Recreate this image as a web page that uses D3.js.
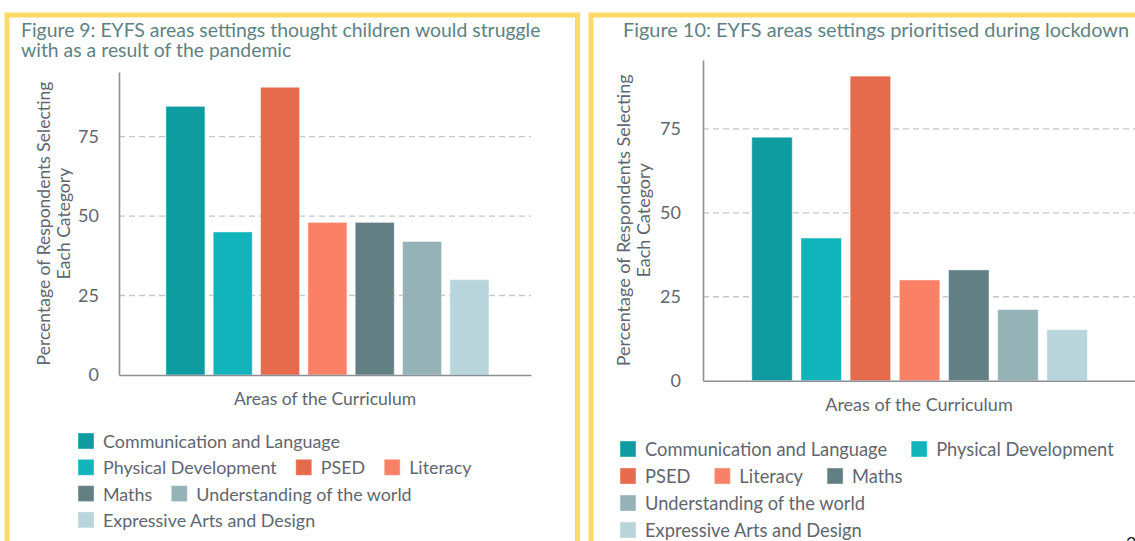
<!DOCTYPE html>
<html>
<head>
<meta charset="utf-8">
<script src="https://cdn.jsdelivr.net/npm/d3@7"></script>
<style>
  html, body { margin: 0; padding: 0; background: #ffffff; overflow: hidden; }
  svg { display: block; font-family: Lato, "Open Sans", sans-serif; }
</style>
</head>
<body>
<svg id="chart" width="1135" height="541"></svg>
<script>
// ---- data ----
const categories = [
  "Communication and Language",
  "Physical Development",
  "PSED",
  "Literacy",
  "Maths",
  "Understanding of the world",
  "Expressive Arts and Design"
];
const colors = ["#0E9CA1", "#11B4BB", "#E66A4C", "#FA8165", "#628084", "#95B2B7", "#B7D5DA"];
const struggleValues = [84.5, 45, 90.5, 48, 48, 42, 30];          // Figure 9
const prioritisedValues = [72.5, 42.5, 90.7, 30, 33, 21.2, 15.2]; // Figure 10
const yTicks = [0, 25, 50, 75];
const title9 = ["Figure 9: EYFS areas settings thought children would struggle", "with as a result of the pandemic"];
const title10 = ["Figure 10: EYFS areas settings prioritised during lockdown"];
const yTitle = ["Percentage of Respondents Selecting", "Each Category"];
const xTitle = "Areas of the Curriculum";

const svg = d3.select("#chart");
const textColor = "#5f6670";
const titleColor = "#5E8284";
const yellow = "#FFD966";

// panels
svg.append("rect").attr("x", 7).attr("y", 15).attr("width", 570.5).attr("height", 560)
  .attr("fill", "#fff").attr("stroke", yellow).attr("stroke-width", 5);
svg.append("rect").attr("x", 591).attr("y", 15).attr("width", 600).attr("height", 560)
  .attr("fill", "#fff").attr("stroke", yellow).attr("stroke-width", 5);

function drawChart(cfg) {
  const g = svg.append("g");
  const x = d3.scaleBand().domain(categories).range([cfg.x0, cfg.x1])
    .paddingInner(cfg.pi).paddingOuter(cfg.po).align(cfg.align);
  const y = d3.scaleLinear().domain([0, cfg.yMax]).range([cfg.y0, cfg.y1]);

  // title
  const t = g.append("text").attr("fill", titleColor).attr("font-size", cfg.titleSize);
  cfg.title.forEach((line, i) => {
    t.append("tspan").attr("x", cfg.titleX).attr("y", cfg.titleY + i * cfg.titleLH).text(line);
  });

  // gridlines
  g.append("g").selectAll("line").data(yTicks.filter(d => d > 0)).join("line")
    .attr("x1", cfg.x0).attr("x2", cfg.x1)
    .attr("y1", d => y(d)).attr("y2", d => y(d))
    .attr("stroke", "#c4c6c9").attr("stroke-width", 1.3).attr("stroke-dasharray", "6,4");

  // bars
  g.append("g").selectAll("rect").data(cfg.values).join("rect")
    .attr("x", (d, i) => x(categories[i]))
    .attr("width", x.bandwidth())
    .attr("y", d => y(d))
    .attr("height", d => y(0) - y(d))
    .attr("fill", (d, i) => colors[i])
    .attr("stroke", "#ffffff").attr("stroke-opacity", 0.45).attr("stroke-width", 1);

  // y axis
  const yAxis = d3.axisLeft(y).tickValues(yTicks).tickSize(0).tickPadding(cfg.tickPad);
  const ya = g.append("g").attr("transform", `translate(${cfg.x0},0)`).call(yAxis);
  ya.select(".domain").attr("stroke", "#8a9096").attr("stroke-width", 1.6);
  ya.selectAll("text").attr("fill", textColor).attr("font-size", cfg.tickSize)
    .attr("font-family", "Lato, sans-serif");

  // x axis
  const xAxis = d3.axisBottom(x).tickValues([]).tickSize(0).tickSizeOuter(0);
  const xa = g.append("g").attr("transform", `translate(0,${cfg.y0})`).call(xAxis);
  xa.select(".domain").attr("stroke", "#8a9096").attr("stroke-width", 1.6);

  // axis titles
  g.append("text").attr("x", (cfg.x0 + cfg.x1) / 2).attr("y", cfg.xTitleY)
    .attr("text-anchor", "middle").attr("fill", textColor).attr("font-size", cfg.axisTitleSize)
    .text(xTitle);
  const cy = (cfg.y0 + cfg.y1) / 2;
  yTitle.forEach((line, i) => {
    g.append("text")
      .attr("transform", `translate(${cfg.yTitleX + i * cfg.yTitleLH},${cy}) rotate(-90)`)
      .attr("text-anchor", "middle").attr("dominant-baseline", "central")
      .attr("fill", textColor).attr("font-size", cfg.axisTitleSize).text(line);
  });

  // legend (flow layout)
  const lg = g.append("g");
  let lx = cfg.legX, row = 0;
  categories.forEach((c, i) => {
    const item = lg.append("g");
    const tx = item.append("text").attr("x", cfg.sq + cfg.sqGap).attr("y", 0)
      .attr("dominant-baseline", "central").attr("fill", textColor)
      .attr("font-size", cfg.legSize).text(c);
    const w = cfg.sq + cfg.sqGap + tx.node().getComputedTextLength();
    if (lx !== cfg.legX && lx + w > cfg.legMax) { row++; lx = cfg.legX; }
    item.attr("transform", `translate(${lx},${cfg.legY + row * cfg.legLH})`);
    item.insert("rect", "text").attr("x", 0).attr("y", -cfg.sq / 2)
      .attr("width", cfg.sq).attr("height", cfg.sq).attr("fill", colors[i])
      .attr("stroke", "#ffffff").attr("stroke-opacity", 0.4);
    lx += w + cfg.itemGap;
  });
}

drawChart({
  values: struggleValues, x0: 119, x1: 531, pi: 0.175, po: 0.94, align: 0.527,
  y0: 375, y1: 72, yMax: 95.3,
  title: title9, titleX: 21, titleY: 37, titleLH: 20, titleSize: 19.4,
  tickPad: 20, tickSize: 18, axisTitleSize: 17.5, xTitleY: 405,
  yTitleX: 43, yTitleLH: 20,
  legX: 78, legY: 441, legLH: 26.3, legMax: 530, sq: 16, sqGap: 9, itemGap: 19, legSize: 17.9
});

drawChart({
  values: prioritisedValues, x0: 703, x1: 1135, pi: 0.177, po: 0.98, align: 0.506,
  y0: 380.7, y1: 60, yMax: 95.5,
  title: title10, titleX: 623, titleY: 37, titleLH: 20, titleSize: 19.9,
  tickPad: 22, tickSize: 18, axisTitleSize: 18, xTitleY: 411,
  yTitleX: 623, yTitleLH: 20,
  legX: 620, legY: 449, legLH: 27, legMax: 1125, sq: 16, sqGap: 9, itemGap: 24, legSize: 18.3
});

// page number (cut off at the bottom edge)
svg.append("text").attr("x", 1126).attr("y", 550).attr("font-size", 18)
  .attr("fill", "#222").text("2");
</script>
</body>
</html>
